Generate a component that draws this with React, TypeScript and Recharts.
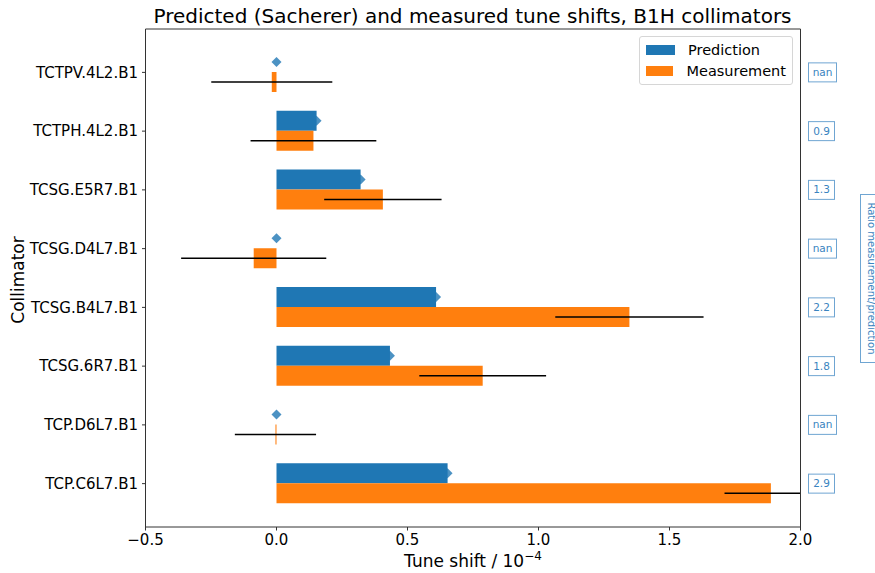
import {
    ComposedChart,
    Bar,
    XAxis,
    YAxis,
    ErrorBar,
    Legend,
    Label,
} from "recharts";

const collimators = [
    "TCTPV.4L2.B1",
    "TCTPH.4L2.B1",
    "TCSG.E5R7.B1",
    "TCSG.D4L7.B1",
    "TCSG.B4L7.B1",
    "TCSG.6R7.B1",
    "TCP.D6L7.B1",
    "TCP.C6L7.B1",
];
const prediction = [0.0, 0.153, 0.321, 0.0, 0.609, 0.433, 0.0, 0.653];
const measurement = [-0.018, 0.141, 0.406, -0.087, 1.347, 0.787, -0.004, 1.887];
// error bar extent below / above the measured value (last one runs off the axis)
const errLow = [0.231, 0.24, 0.224, 0.277, 0.283, 0.242, 0.155, 0.177];
const errHigh = [0.231, 0.24, 0.224, 0.277, 0.283, 0.242, 0.155, 0.113];
const ratioLabels = ["nan", "0.9", "1.3", "nan", "2.2", "1.8", "nan", "2.9"];
const xTicks = [-0.5, 0, 0.5, 1, 1.5, 2];

const data = collimators.map((name, i) => ({
    name,
    pred: prediction[i],
    meas: measurement[i],
    err: [errLow[i], errHigh[i]],
    ratio: ratioLabels[i],
}));

const FONT = "'DejaVu Sans', sans-serif";
const BLUE = "#1f77b4";
const ORANGE = "#ff7f0e";
const SPINE = "#333";

const fmt = (v: number) => v.toFixed(1).replace("-", "\u2212");

// prediction bar with the diamond marker sitting behind its end
function PredShape(props: any) {
    const { x, y, width, height, fill } = props;
    const cx = x + width;
    const cy = y + height / 2;
    const r = 5;
    return (
        <g>
            <path
                d={`M${cx - r},${cy} L${cx},${cy - r} L${cx + r},${cy} L${cx},${cy + r} Z`}
                fill={BLUE}
                fillOpacity={0.8}
            />
            <rect x={x} y={y} width={width} height={height} fill={fill} />
        </g>
    );
}

function RatioTick(props: any) {
    const { y, payload } = props;
    const row = data.find((d) => d.name === payload.value);
    const txt = row ? row.ratio : "";
    const w = txt === "nan" ? 28 : 26;
    return (
        <g>
            <rect x={808.5} y={y - 9.5} width={w} height={19} fill="white" stroke="#6fa5d2" strokeWidth={1} />
            <text x={808.5 + w / 2} y={y + 3.5} textAnchor="middle" fontSize={10.5} fontFamily={FONT} fill="#3a84c0">
                {txt}
            </text>
        </g>
    );
}

function LegendBox() {
    const items = [
        { label: "Prediction", color: BLUE },
        { label: "Measurement", color: ORANGE },
    ];
    return (
        <div
            style={{
                border: "1px solid #d6d6d6",
                borderRadius: 3,
                background: "rgba(255,255,255,0.8)",
                padding: "2px 6px 3px 6px",
                fontFamily: FONT,
                fontSize: 14.5,
                color: "#000",
                boxSizing: "border-box",
            }}
        >
            {items.map((it) => (
                <div key={it.label} style={{ display: "flex", alignItems: "center", height: 21 }}>
                    <span style={{ display: "inline-block", width: 29, height: 10, background: it.color, marginRight: 13 }} />
                    <span>{it.label}</span>
                </div>
            ))}
        </div>
    );
}

export default function App() {
    return (
        <div style={{ position: "absolute", left: 0, top: 0, width: 875, height: 573, background: "#fff" }}>
            <ComposedChart
                width={875}
                height={573}
                data={data}
                layout="vertical"
                margin={{ top: 0, right: 15, bottom: 0, left: 0 }}
                barGap={0}
                barSize={20}
            >
                <XAxis
                    type="number"
                    domain={[-0.5, 2]}
                    ticks={xTicks}
                    allowDataOverflow
                    tickFormatter={fmt}
                    stroke={SPINE}
                    tickSize={3.5}
                    tickMargin={4}
                    tick={{ fill: "#000", fontSize: 15, fontFamily: FONT }}
                    height={46}
                >
                    <Label
                        content={() => (
                            <text x={473} y={567} textAnchor="middle" fontSize={17} fontFamily={FONT} fill="#000">
                                Tune shift / 10
                                <tspan fontSize={12} dy={-7}>
                                    {"\u22124"}
                                </tspan>
                            </text>
                        )}
                    />
                </XAxis>
                <XAxis
                    xAxisId="top"
                    orientation="top"
                    type="number"
                    domain={[-0.5, 2]}
                    allowDataOverflow
                    tick={false}
                    tickLine={false}
                    stroke={SPINE}
                    height={29}
                >
                    <Label
                        content={() => (
                            <text x={472.5} y={23} textAnchor="middle" fontSize={20} fontFamily={FONT} fill="#000">
                                Predicted (Sacherer) and measured tune shifts, B1H collimators
                            </text>
                        )}
                    />
                </XAxis>
                <YAxis
                    type="category"
                    dataKey="name"
                    width={145.5}
                    padding={{ top: 14, bottom: 14 }}
                    stroke={SPINE}
                    tickSize={3.5}
                    tickMargin={4}
                    tick={{ fill: "#000", fontSize: 15, fontFamily: FONT }}
                    interval={0}
                >
                    <Label
                        content={() => (
                            <text
                                x={24}
                                y={280}
                                textAnchor="middle"
                                fontSize={17}
                                fontFamily={FONT}
                                fill="#000"
                                transform="rotate(-90 24 280)"
                            >
                                Collimator
                            </text>
                        )}
                    />
                </YAxis>
                <YAxis
                    yAxisId="r"
                    orientation="right"
                    type="category"
                    dataKey="name"
                    width={59.5}
                    padding={{ top: 14, bottom: 14 }}
                    stroke={SPINE}
                    tickLine={false}
                    tick={<RatioTick />}
                    interval={0}
                >
                    <Label
                        content={() => (
                            <g>
                                <rect x={860.5} y={194.5} width={20} height={168} fill="white" stroke="#6fa5d2" />
                                <text
                                    x={867.5}
                                    y={278.5}
                                    textAnchor="middle"
                                    fontSize={10}
                                    fontFamily={FONT}
                                    fill="#3a84c0"
                                    transform="rotate(90 867.5 278.5)"
                                >
                                    Ratio measurement/prediction
                                </text>
                            </g>
                        )}
                    />
                </YAxis>
                <Legend
                    layout="vertical"
                    align="center"
                    verticalAlign="middle"
                    content={() => <LegendBox />}
                    wrapperStyle={{ left: 639, top: 36, width: 154 }}
                />
                <Bar dataKey="pred" name="Prediction" fill={BLUE} shape={<PredShape />} isAnimationActive={false} />
                <Bar dataKey="meas" name="Measurement" fill={ORANGE} isAnimationActive={false}>
                    <ErrorBar dataKey="err" direction="x" width={0} stroke="#000" strokeWidth={1.5} />
                </Bar>
            </ComposedChart>
        </div>
    );
}
